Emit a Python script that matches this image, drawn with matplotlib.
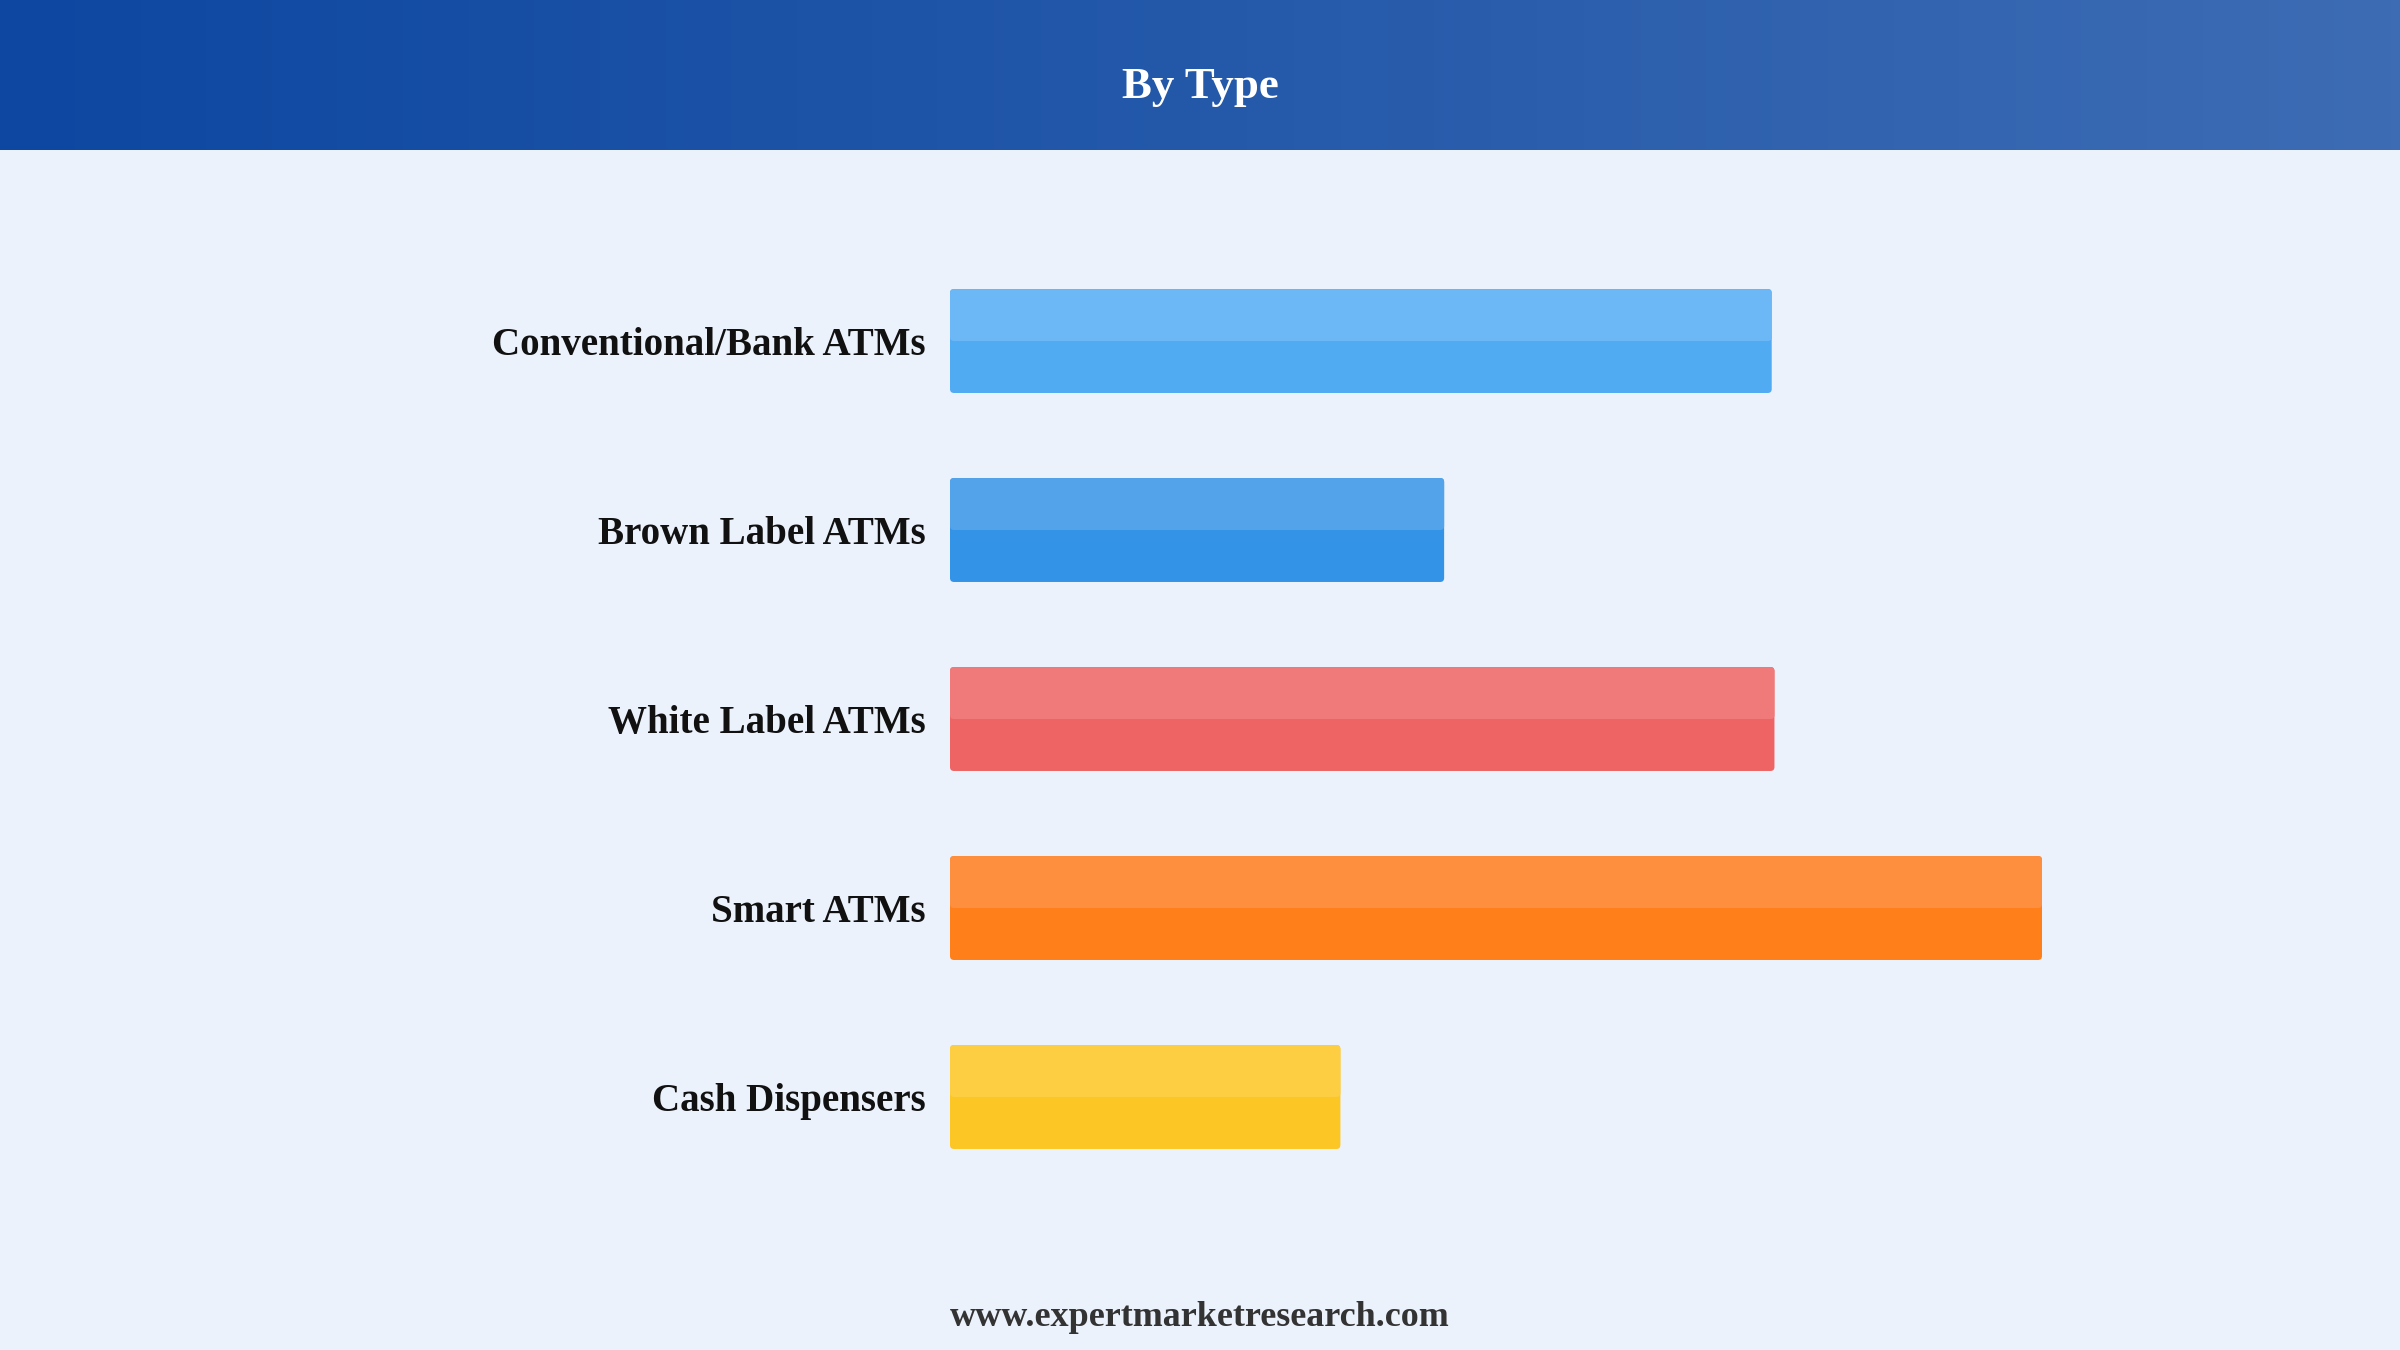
import matplotlib.pyplot as plt
import numpy as np
from matplotlib.patches import FancyBboxPatch
from matplotlib.colors import LinearSegmentedColormap

plt.rcParams['font.family'] = ['Liberation Serif', 'DejaVu Serif']

# Data (no value axis shown, lengths)
categories = ['Conventional/Bank ATMs', 'Brown Label ATMs', 'White Label ATMs', 'Smart ATMs', 'Cash Dispensers']
values = [30.1, 18.1, 30.2, 40.0, 14.3]
bar_colors = ['#50ABF2', '#3393E6', '#EE6464', '#FF7F1B', '#FCC624']
top_colors = ['#6CB8F6', '#52A3EA', '#F07A7A', '#FE8F3E', '#FDCE42']

W, H = 2400, 1350
fig = plt.figure(figsize=(24, 13.5), dpi=100)
fig.patch.set_facecolor('#EBF2FB')

# header band with gradient
hdr_h = 150 / H
hax = fig.add_axes([0, 1 - hdr_h, 1, hdr_h])
cmap = LinearSegmentedColormap.from_list('hdr', ['#0D47A1', '#2459AA', '#3D6CB4'])
hax.imshow(np.linspace(0, 1, 512)[None, :], aspect='auto', cmap=cmap, extent=[0, 1, 0, 1])
hax.set_axis_off()
hax.text(0.5, 0.42, 'By Type', ha='center', va='center', color='white',
         fontsize=32.3, fontweight='bold')

# bar area: x 950..2042 px maps to 0..40
x0, x1 = 950, 2042
y_top, y_bot = 341 - 94.5, 1097 + 94.5
ax = fig.add_axes([x0 / W, 1 - y_bot / H, (x1 - x0) / W, (y_bot - y_top) / H])
ax.set_facecolor('none')
xmax = 40.0
ax.set_xlim(0, xmax)
n = len(categories)
ax.set_ylim(n - 0.5, -0.5)
ax.set_axis_off()

bar_h = 0.55
# rounding size in data units (about 4 px)
px_x = xmax / (x1 - x0)
px_y = n / (y_bot - y_top)
rx = 4 * px_x
asp = px_y / px_x

for i, (v, c, tc) in enumerate(zip(values, bar_colors, top_colors)):
    ax.add_patch(FancyBboxPatch((0, i - bar_h / 2), v, bar_h,
                                boxstyle=f'round,pad=0,rounding_size={rx}',
                                mutation_aspect=asp, fc=c, ec='none'))
    ax.add_patch(FancyBboxPatch((0, i - bar_h / 2), v, bar_h / 2,
                                boxstyle=f'round,pad=0,rounding_size={rx}',
                                mutation_aspect=asp, fc=tc, ec='none'))
    ax.text(-24 * px_x, i + 4.5 * px_y, categories[i], ha='right', va='center',
            fontsize=28.1, fontweight='bold', color='#111111', clip_on=False)

fig.text(0.5, 1 - 1318 / H, 'www.expertmarketresearch.com', ha='center', va='center',
         fontsize=25.9, fontweight='bold', color='#333333')

fig.savefig('out.png', dpi=100, facecolor=fig.get_facecolor())
